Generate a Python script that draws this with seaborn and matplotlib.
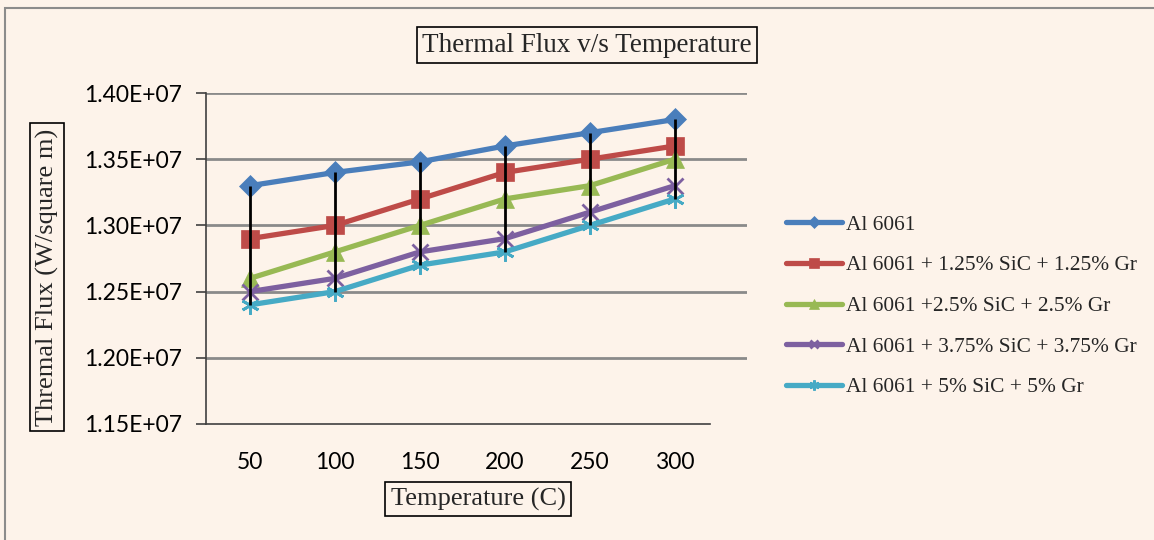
import matplotlib
matplotlib.use("Agg")
import matplotlib.pyplot as plt
from matplotlib.patches import Rectangle
import numpy as np
import pandas as pd
import seaborn as sns

# Data (thermal flux in W/m^2)
temperatures = [50, 100, 150, 200, 250, 300]
al6061 = [1.330e7, 1.340e7, 1.348e7, 1.360e7, 1.370e7, 1.380e7]
al_125 = [1.290e7, 1.300e7, 1.320e7, 1.340e7, 1.350e7, 1.360e7]
al_250 = [1.260e7, 1.280e7, 1.300e7, 1.320e7, 1.330e7, 1.350e7]
al_375 = [1.250e7, 1.260e7, 1.280e7, 1.290e7, 1.310e7, 1.330e7]
al_500 = [1.240e7, 1.250e7, 1.270e7, 1.280e7, 1.300e7, 1.320e7]

series_names = [
    "Al 6061",
    "Al 6061 + 1.25% SiC + 1.25% Gr",
    "Al 6061 +2.5% SiC + 2.5% Gr",
    "Al 6061 + 3.75% SiC + 3.75% Gr",
    "Al 6061 + 5% SiC + 5% Gr",
]
series_values = [al6061, al_125, al_250, al_375, al_500]
colors = ["#4a7ebb", "#be4b48", "#98b954", "#7d60a0", "#46aac5"]
markers = ["D", "s", "^", "x", (6, 2, 0)]
marker_sizes = [11.5, 13, 12.5, 11.5, 13]

y_ticks = [1.15e7, 1.20e7, 1.25e7, 1.30e7, 1.35e7, 1.40e7]
y_tick_labels = ["1.15E+07", "1.20E+07", "1.25E+07", "1.30E+07", "1.35E+07", "1.40E+07"]

bg = "#fdf3ea"
sns.set_theme(style="white")
plt.rcParams["font.family"] = ["DejaVu Sans"]

W, H = 1154, 540
fig = plt.figure(figsize=(W / 100, H / 100), dpi=100, facecolor=bg)

# outer chart border
fig.patches.append(Rectangle((5 / W, -0.1), 1.2, (H - 8) / H + 0.1,
                             transform=fig.transFigure, fill=False,
                             edgecolor="#8c8c8c", linewidth=1.5))

ax = fig.add_axes([206 / W, 1 - 424 / H, (747 - 206) / W, (424 - 93) / H])
ax.set_facecolor(bg)

x_idx = np.arange(len(temperatures))
df = pd.DataFrame({"idx": np.tile(x_idx, len(series_names)),
                   "flux": np.concatenate(series_values),
                   "series": np.repeat(series_names, len(temperatures))})

# high-low lines spanning all series at each temperature
all_vals = np.array(series_values)
ax.vlines(x_idx, all_vals.min(axis=0), all_vals.max(axis=0),
          colors="black", linewidth=2, zorder=4)

for name, col, mk, ms in zip(series_names, colors, markers, marker_sizes):
    sub = df[df["series"] == name]
    sns.lineplot(data=sub, x="idx", y="flux", ax=ax, color=col, linewidth=3.8,
                 marker=mk, markersize=ms, markeredgecolor=col,
                 markeredgewidth=2.0 if mk in ("x", (6, 2, 0)) else 0.5,
                 label=name, zorder=3)

ax.set_xlim(-0.518, 5.85)
ax.set_ylim(1.15e7, 1.40e7)
ax.set_yticks(y_ticks)
ax.set_yticklabels(y_tick_labels)
ax.set_xticks(x_idx)
ax.set_xticklabels([str(t) for t in temperatures])

for yv in y_ticks[1:]:
    ax.axhline(yv, color="#8a8a8a", linewidth=2, zorder=1)

for s in ["top", "right"]:
    ax.spines[s].set_visible(False)
ax.spines["left"].set_color("#404040")
ax.spines["left"].set_linewidth(1.2)
ax.spines["bottom"].set_color("#404040")
ax.spines["bottom"].set_linewidth(1.2)
ax.spines["bottom"].set_bounds(-0.518, 5.41)

ax.tick_params(axis="y", which="both", left=True, length=7, width=1.2,
               color="#404040", pad=10, labelsize=16.5)
ax.tick_params(axis="x", bottom=False, pad=14, labelsize=16.5)
for lbl in ax.get_yticklabels() + ax.get_xticklabels():
    lbl.set_fontfamily(["Lato", "DejaVu Sans"])
    lbl.set_color("black")

ax.set_xlabel("")
ax.set_ylabel("")

serif = ["Liberation Serif", "DejaVu Serif"]
box = dict(boxstyle="square,pad=0.2", facecolor=bg, edgecolor="black", linewidth=1.2)
fig.text(587 / W, 1 - 45 / H, "Thermal Flux v/s Temperature", ha="center", va="center",
         fontsize=19.5, family=serif, bbox=box)
fig.text(478 / W, 1 - 499 / H, "Temperature (C)", ha="center", va="center",
         fontsize=19, family=serif, bbox=box)
fig.text(47 / W, 1 - 277 / H, "Thremal Flux (W/square m)", ha="center", va="center",
         rotation=90, fontsize=19, family=serif, bbox=box)

leg = ax.legend(loc="center left", bbox_to_anchor=(786 / W, 1 - 306 / H),
                bbox_transform=fig.transFigure, frameon=False,
                prop={"family": serif, "size": 15.4}, handlelength=2.6,
                handletextpad=0.2, labelspacing=0.97, markerscale=0.55,
                borderaxespad=0, borderpad=0)

fig.savefig("out.png", dpi=100, facecolor=bg)
